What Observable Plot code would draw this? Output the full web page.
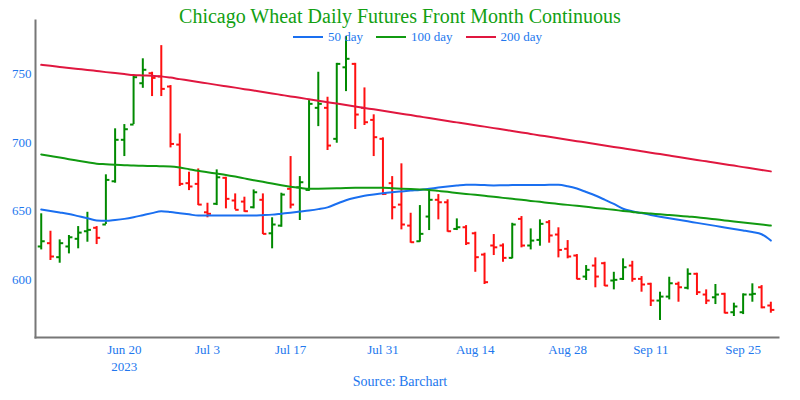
<!DOCTYPE html>
<html><head><meta charset="utf-8">
<script src="https://cdn.jsdelivr.net/npm/d3@7"></script>
<script src="https://cdn.jsdelivr.net/npm/@observablehq/plot@0.6"></script>
<style>
body{margin:0;background:#fff;}
#wrap{position:relative;width:800px;height:400px;font-family:"Liberation Serif","Times New Roman",serif;}
#title{position:absolute;top:4px;left:0;width:800px;text-align:center;font-size:20px;color:#12a012;line-height:24px;}
#legend{position:absolute;top:29px;left:293px;display:flex;align-items:center;font-size:13px;color:#2277ee;line-height:16px;}
#legend span.sw{display:inline-block;width:30px;height:2.5px;margin-right:5px;}
#legend span.lab{margin-right:13px;}
#source{position:absolute;top:374px;left:0;width:800px;text-align:center;font-size:14px;color:#2277ee;}
#chart{position:absolute;top:0;left:0;}
</style></head>
<body>
<div id="wrap">
<div id="chart"></div>
<div id="title">Chicago Wheat Daily Futures Front Month Continuous</div>
<div id="legend"></div>
<div id="source">Source: Barchart</div>
</div>
<script>
const dates = ["2023-06-06","2023-06-07","2023-06-08","2023-06-09","2023-06-12","2023-06-13","2023-06-14","2023-06-15","2023-06-16","2023-06-20",
"2023-06-21","2023-06-22","2023-06-23","2023-06-26","2023-06-27","2023-06-28","2023-06-29","2023-06-30","2023-07-03","2023-07-05",
"2023-07-06","2023-07-07","2023-07-10","2023-07-11","2023-07-12","2023-07-13","2023-07-14","2023-07-17","2023-07-18","2023-07-19",
"2023-07-20","2023-07-21","2023-07-24","2023-07-25","2023-07-26","2023-07-27","2023-07-28","2023-07-31","2023-08-01","2023-08-02",
"2023-08-03","2023-08-04","2023-08-07","2023-08-08","2023-08-09","2023-08-10","2023-08-11","2023-08-14","2023-08-15","2023-08-16",
"2023-08-17","2023-08-18","2023-08-21","2023-08-22","2023-08-23","2023-08-24","2023-08-25","2023-08-28","2023-08-29","2023-08-30",
"2023-08-31","2023-09-01","2023-09-05","2023-09-06","2023-09-07","2023-09-08","2023-09-11","2023-09-12","2023-09-13","2023-09-14",
"2023-09-15","2023-09-18","2023-09-19","2023-09-20","2023-09-21","2023-09-22","2023-09-25","2023-09-26","2023-09-27","2023-09-28"];
const open = [624.3,626.7,616.5,624.3,629.9,635.4,637.9,640.3,671.8,702.0,
713.1,743.2,750.5,748.1,740.8,698.5,670.4,669.9,649.2,655.4,
674.3,657.8,657.0,652.9,658.3,633.9,639.5,666.3,667.4,665.5,
725.3,725.3,702.7,754.8,757.3,725.3,716.5,702.7,670.4,654.8,
639.5,628.1,646.1,658.3,656.5,637.1,638.3,633.9,618.4,625.0,
625.0,616.0,644.4,625.0,629.1,642.0,633.0,622.6,617.7,602.4,
610.4,612.1,599.5,600.7,610.4,600.7,597.1,584.9,587.8,597.1,
594.2,604.4,589.3,587.3,589.8,576.4,576.4,589.3,594.6,581.3];
const high = [648.1,635.4,629.1,632.3,638.8,649.2,638.8,676.5,710.0,713.1,
748.8,761.0,751.2,770.6,741.5,706.3,678.4,680.8,655.8,680.1,
674.7,662.6,660.2,665.5,662.6,645.2,663.1,689.8,675.2,730.6,
751.2,733.0,757.7,777.2,757.7,739.8,720.2,703.4,675.2,684.5,
648.5,654.1,665.5,662.1,658.3,644.4,639.5,634.7,619.4,633.0,
626.2,641.2,646.1,637.1,643.7,643.2,637.9,628.6,618.4,610.4,
616.0,612.8,605.5,615.3,613.5,602.4,597.5,591.0,601.9,598.3,
608.0,604.8,592.7,596.6,590.2,583.0,589.8,597.1,595.8,583.7];
const low = [621.8,614.1,612.1,618.9,622.6,627.4,625.7,640.3,670.4,689.8,
713.1,739.5,733.5,733.5,696.1,668.0,665.0,654.1,645.2,654.1,
651.7,651.0,649.2,651.7,633.0,622.6,638.3,651.7,643.2,664.5,
711.6,694.2,699.5,737.1,709.5,712.4,689.8,661.4,643.7,636.4,
626.7,627.4,635.9,643.7,634.7,635.9,625.0,605.5,596.6,617.7,
612.8,615.3,623.3,621.8,624.5,626.7,616.0,615.3,600.0,599.5,
594.2,595.1,592.7,599.5,598.3,591.0,580.6,570.4,585.4,583.7,
592.7,588.6,582.0,582.0,575.2,573.3,574.7,583.7,578.9,575.7];
const close = [628.1,617.0,626.7,631.0,634.4,636.4,630.6,672.8,702.0,709.7,
747.6,753.0,747.1,739.1,699.0,669.9,668.0,654.8,648.1,674.7,
659.0,651.0,650.0,663.8,633.5,640.3,662.1,654.8,671.1,728.2,
728.2,697.8,757.3,761.0,720.4,714.8,703.9,662.6,652.9,640.3,
627.4,633.5,658.3,656.5,635.4,638.3,626.7,616.5,598.3,623.7,
616.0,640.3,625.0,628.6,640.8,632.3,621.8,617.0,600.7,607.3,
602.4,595.8,600.0,609.2,600.7,596.6,584.9,587.8,597.5,594.6,
604.4,591.0,584.9,589.3,576.0,580.6,589.3,589.8,580.0,578.1];
const ma50 = [651.2,650.1,649.1,648.0,646.4,644.8,643.3,643.0,643.6,644.4,
645.6,647.1,648.6,650.0,649.4,648.5,647.7,646.8,646.8,646.8,
646.8,646.8,646.8,646.8,647.1,647.5,648.2,648.9,649.7,650.5,
651.5,652.8,655.4,658.0,659.8,661.2,662.2,663.1,663.8,664.4,
665.0,665.5,666.3,667.2,668.0,668.7,669.3,669.2,669.0,668.8,
668.9,669.0,669.0,669.1,669.1,669.2,669.2,668.2,666.5,664.0,
661.4,658.4,655.3,651.8,650.0,648.6,647.3,646.0,644.8,643.7,
642.6,641.5,640.4,639.3,638.2,637.1,636.0,634.8,633.2,628.6];
const ma100 = [691.3,690.2,689.1,687.9,686.8,685.7,684.6,684.2,683.8,683.5,
683.2,683.1,682.9,682.8,682.6,681.8,680.6,679.4,678.4,677.4,
676.4,675.2,673.9,672.6,671.4,670.1,668.9,667.8,667.0,666.4,
666.4,666.5,666.7,666.9,667.0,667.0,667.0,667.0,666.7,666.4,
666.1,665.8,665.5,664.8,664.1,663.3,662.6,661.9,661.2,660.5,
659.7,659.0,658.3,657.5,656.8,656.0,655.3,654.6,653.9,653.2,
652.4,651.7,651.0,650.2,649.5,648.8,648.3,647.7,647.2,646.7,
646.1,645.6,644.9,644.1,643.3,642.5,641.8,641.0,640.3,639.5];
const ma200 = [756.6,755.9,755.1,754.3,753.6,752.9,752.1,751.3,750.6,749.9,
749.2,748.9,748.6,748.2,747.3,746.2,745.2,744.1,743.1,742.0,
741.0,740.0,738.9,737.9,736.8,735.8,734.7,733.6,732.6,731.5,
730.4,729.4,728.4,727.3,726.3,725.2,724.2,723.1,722.1,721.0,
720.0,718.9,717.8,716.8,715.7,714.7,713.7,712.6,711.6,710.5,
709.5,708.4,707.4,706.3,705.2,704.2,703.1,702.1,701.0,700.0,
698.9,697.9,696.8,695.8,694.8,693.7,692.6,691.6,690.5,689.4,
688.4,687.3,686.3,685.3,684.2,683.2,682.1,681.1,680.0,679.0];
const tickDates = ["2023-06-20","2023-07-03","2023-07-17","2023-07-31","2023-08-14","2023-08-28","2023-09-11","2023-09-25"];
const tickLabels = ["Jun 20","Jul 3","Jul 17","Jul 31","Aug 14","Aug 28","Sep 11","Sep 25"];
const yearDate = "2023-06-20";
const yearLabel = "2023";
const yTicks = [600,650,700,750];
const seriesNames = ["50 day","100 day","200 day"];
const seriesColors = ["#1a6ff0","#119a11","#e0173f"];

const bars = dates.map((d,i)=>({i, date:d, open:open[i], high:high[i], low:low[i], close:close[i],
  col: close[i] >= open[i] ? "#008a00" : "#ff1010"}));
const maRows = [];
[ma50, ma100, ma200].forEach((arr,k)=>arr.forEach((v,i)=>maRows.push({i, v, s:seriesNames[k]})));
const tickIdx = tickDates.map(t=>dates.indexOf(t));
const yearIdx = dates.indexOf(yearDate);

const chart = Plot.plot({
  width: 800, height: 400,
  marginLeft: 35, marginRight: 22, marginTop: 20, marginBottom: 63,
  style: {color:"#2277ee", fontFamily:"'Liberation Serif','Times New Roman',serif", fontSize:"13px", background:"transparent"},
  x: {type:"linear", domain:[-0.62, 79.83]},
  y: {domain:[558, 788.9]},
  color: {domain: seriesNames, range: seriesColors},
  marks: [
    Plot.axisY({ticks:yTicks, tickSize:0, tickPadding:4, label:null, fontSize:13}),
    Plot.axisX({ticks:tickIdx, tickSize:0, tickPadding:7, label:null, fontSize:13,
      tickFormat: v => tickLabels[tickIdx.indexOf(v)]}),
    Plot.axisX({ticks:[yearIdx], tickSize:0, tickPadding:24, label:null, fontSize:13,
      tickFormat: () => yearLabel}),
    Plot.ruleX(bars, {x:"i", y1:"low", y2:"high", stroke:"col", strokeWidth:2}),
    Plot.link(bars, {x1: d=>d.i-0.38, x2:"i", y1:"open", y2:"open", stroke:"col", strokeWidth:2}),
    Plot.link(bars, {x1:"i", x2: d=>d.i+0.38, y1:"close", y2:"close", stroke:"col", strokeWidth:2}),
    Plot.line(maRows, {x:"i", y:"v", z:"s", stroke:"s", strokeWidth:2, curve:"monotone-x"}),
    Plot.frame({anchor:"left", stroke:"#777", strokeWidth:2}),
    Plot.frame({anchor:"bottom", stroke:"#777", strokeWidth:2})
  ]
});
document.getElementById("chart").appendChild(chart);

const leg = document.getElementById("legend");
seriesNames.forEach((n,k)=>{
  const sw = document.createElement("span"); sw.className="sw"; sw.style.background=seriesColors[k];
  const lb = document.createElement("span"); lb.className="lab"; lb.textContent=n;
  leg.appendChild(sw); leg.appendChild(lb);
});
</script>
</body></html>
